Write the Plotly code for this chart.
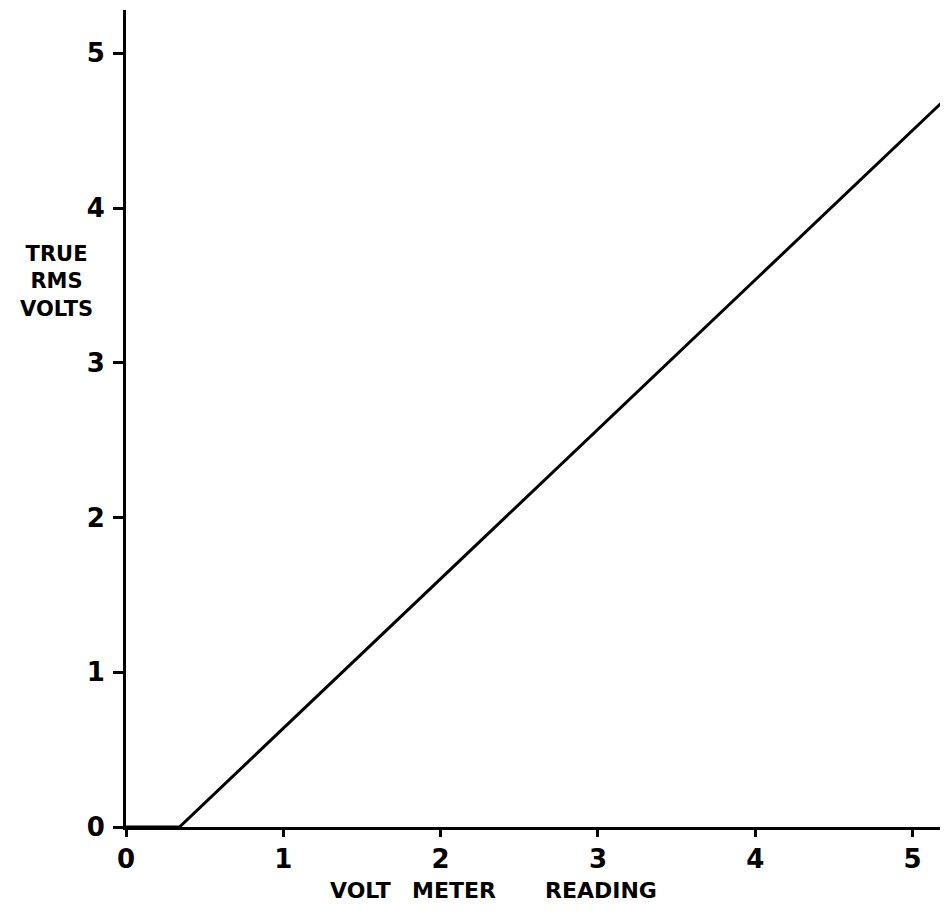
import plotly.graph_objects as go

# Data
volt_meter = [0.0, 0.34, 5.225]
true_rms = [0.0, 0.0, 4.72]
x_ticks = [0, 1, 2, 3, 4, 5]
x_tick_text = ["0", "1", "2", "3", "4", "5"]
y_ticks = [0, 1, 2, 3, 4, 5]
y_tick_text = ["0", "1", "2", "3", "4", "5"]
x_title_words = ["VOLT", "METER", "READING"]
y_title = "TRUE<br>RMS<br>VOLTS"

FONT = "DejaVu Sans"

# page body has an 8px margin; figure is sized to fill the rest of the window
OFF = 8
W, H = 940, 908
L, R, T, B = 118, 0, 2, 89
PW, PH = W - L - R, H - T - B


def px(xabs):
    return (xabs - OFF - L) / PW


def py(yabs):
    return (T + PH - (yabs - OFF)) / PH


fig = go.Figure()
fig.add_trace(go.Scatter(
    x=volt_meter, y=true_rms, mode="lines",
    line=dict(color="black", width=3),
    showlegend=False, hoverinfo="skip", cliponaxis=False,
))

tickfont = dict(family=FONT, size=26, color="black", weight="bold")

annotations = []
for word, cx in zip(x_title_words, [360, 454, 601]):
    annotations.append(dict(
        text=word, xref="paper", yref="paper", x=px(cx), y=py(890),
        xanchor="center", yanchor="middle", showarrow=False,
        font=dict(family=FONT, size=22, color="black", weight="bold")))
annotations.append(dict(
    text=y_title, xref="paper", yref="paper", x=px(56), y=py(281),
    xanchor="center", yanchor="middle", showarrow=False, align="center",
    font=dict(family=FONT, size=21, color="black", weight="bold")))

fig.update_layout(
    width=W, height=H,
    margin=dict(l=L, r=R, t=T, b=B, pad=0),
    paper_bgcolor="white", plot_bgcolor="white",
    font=dict(family=FONT, color="black"),
    xaxis=dict(
        range=[0, 5.225], tickvals=x_ticks, ticktext=x_tick_text,
        showgrid=False, zeroline=False, showline=True,
        linecolor="black", linewidth=3,
        ticks="outside", ticklen=7, tickwidth=2.5, tickcolor="black",
        tickfont=tickfont, ticklabelstandoff=0,
    ),
    yaxis=dict(
        range=[0, 5.28], tickvals=y_ticks, ticktext=y_tick_text,
        showgrid=False, zeroline=False, showline=True,
        linecolor="black", linewidth=3,
        ticks="outside", ticklen=10, tickwidth=2.5, tickcolor="black",
        tickfont=tickfont, ticklabelstandoff=3,
    ),
    annotations=annotations,
)

fig.write_html("out.html")
